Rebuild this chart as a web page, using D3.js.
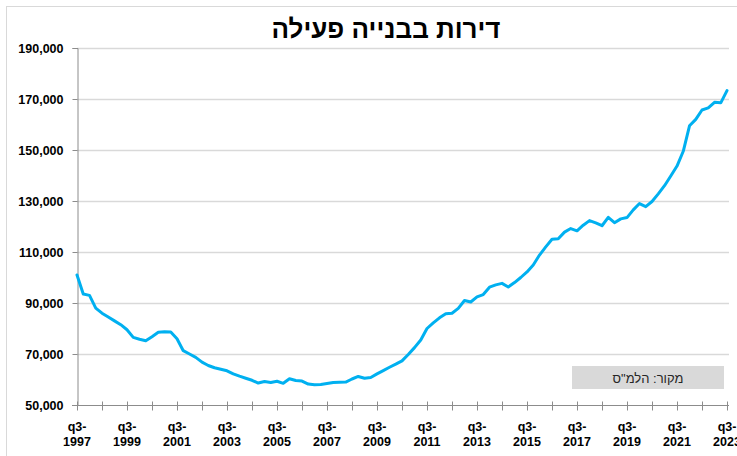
<!DOCTYPE html>
<html>
<head>
<meta charset="utf-8">
<script src="https://cdn.jsdelivr.net/npm/d3@7"></script>
<style>
  body { margin: 0; background: #fff; }
  svg { display: block; font-family: "Liberation Sans", Arial, sans-serif; }
</style>
</head>
<body>
<div id="chart"></div>
<script>
// active housing construction, quarterly q3-1997 .. q3-2023
const values = [
  101000, 93500, 93000, 88000, 86000, 84500, 83000, 81500, 79500, 76500,
  75800, 75200, 76800, 78500, 78700, 78600, 76000, 71300, 70000, 68700,
  66800, 65500, 64600, 64000, 63400, 62200, 61300, 60500, 59700, 58600,
  59200, 58800, 59300, 58500, 60300, 59600, 59400, 58200, 57900, 58000,
  58400, 58800, 58900, 59000, 60200, 61200, 60500, 60800, 62200, 63500,
  64800, 66000, 67300, 69800, 72500, 75500, 80000, 82200, 84200, 85800,
  86000, 87900, 91000, 90400, 92400, 93300, 96200, 97100, 97700, 96300,
  98000, 100000, 102200, 104900, 108800, 112000, 115000, 115200, 117800, 119200,
  118300, 120500, 122300, 121400, 120300, 123600, 121500, 123000, 123500, 126500,
  129000, 127800, 129800, 132800, 136000, 139800, 143700, 149500, 159500, 162000,
  165700, 166500, 168700, 168500, 173300
];

// quarter names for each point: q3-1997, q4-1997, q1-1998 ...
const categories = values.map((d, i) => {
  const q = (2 + i) % 4 + 1;
  const yr = 1997 + Math.floor((2 + i) / 4);
  return 'q' + q + '-' + yr;
});

const tickLabels = ['q3-1997', 'q3-1999', 'q3-2001', 'q3-2003', 'q3-2005', 'q3-2007', 'q3-2009',
  'q3-2011', 'q3-2013', 'q3-2015', 'q3-2017', 'q3-2019', 'q3-2021', 'q3-2023'];
const yTicks = [50000, 70000, 90000, 110000, 130000, 150000, 170000, 190000];

const title = 'דירות בבנייה פעילה';
const source = 'מקור: הלמ"ס';

const width = 737, height = 456;
const plotLeft = 77, plotRight = 727, plotTop = 48, plotBottom = 405;

const svg = d3.select('#chart').append('svg')
  .attr('width', width)
  .attr('height', height);

// chart frame
svg.append('rect')
  .attr('x', 6.5).attr('y', 6.5)
  .attr('width', 740).attr('height', 460)
  .attr('fill', 'none')
  .attr('stroke', '#d9d9d9');

const x = d3.scalePoint()
  .domain(categories)
  .range([plotLeft, plotRight]);

const y = d3.scaleLinear()
  .domain([50000, 190000])
  .range([plotBottom, plotTop]);

// gridlines
svg.append('g')
  .selectAll('line')
  .data(yTicks.slice(1))
  .enter()
  .append('line')
  .attr('x1', plotLeft).attr('x2', 729)
  .attr('y1', (d) => Math.round(y(d)) + 0.5)
  .attr('y2', (d) => Math.round(y(d)) + 0.5)
  .attr('stroke', '#d9d9d9')
  .attr('stroke-width', 1.5);

// y axis
const yAxis = svg.append('g')
  .attr('transform', `translate(${plotLeft + 0.5},0)`)
  .call(d3.axisLeft(y).tickValues(yTicks).tickSize(5).tickPadding(9).tickFormat(d3.format(',')));
yAxis.select('.domain').attr('stroke', '#8c8c8c');
yAxis.selectAll('.tick line').attr('stroke', '#8c8c8c');
yAxis.selectAll('text')
  .attr('font-size', '12.5px')
  .attr('font-weight', 'bold')
  .attr('fill', '#000');

// x axis: a tick every year, label every two years
const yearTicks = categories.filter((c) => c.startsWith('q3-'));
const xAxis = svg.append('g')
  .attr('transform', `translate(0,${plotBottom + 0.5})`)
  .call(d3.axisBottom(x).tickValues(yearTicks).tickSize(5).tickSizeOuter(0).tickFormat(''));
xAxis.select('.domain').attr('stroke', '#8c8c8c').attr('d', `M${plotLeft - 5},0H729`);
xAxis.selectAll('.tick line')
  .attr('stroke', '#8c8c8c')
  .attr('y1', -4).attr('y2', 5);

const labels = svg.append('g')
  .selectAll('text')
  .data(tickLabels)
  .enter()
  .append('text')
  .attr('x', (d) => x(d))
  .attr('y', 431)
  .attr('text-anchor', 'middle')
  .attr('font-size', '12.5px')
  .attr('font-weight', 'bold')
  .attr('fill', '#000');
labels.append('tspan').attr('x', (d) => x(d)).text((d) => d.split('-')[0] + '-');
labels.append('tspan').attr('x', (d) => x(d)).attr('dy', 15).text((d) => d.split('-')[1]);

// the series
const line = d3.line()
  .x((d, i) => x(categories[i]))
  .y((d) => y(d));

svg.append('path')
  .datum(values)
  .attr('d', line)
  .attr('fill', 'none')
  .attr('stroke', '#00b0f0')
  .attr('stroke-width', 3)
  .attr('stroke-linejoin', 'round')
  .attr('stroke-linecap', 'round');

// title
svg.append('text')
  .attr('x', 386)
  .attr('y', 38)
  .attr('text-anchor', 'middle')
  .attr('direction', 'rtl')
  .attr('font-size', '26px')
  .attr('font-weight', 'bold')
  .attr('fill', '#000')
  .text(title);

// source box
svg.append('rect')
  .attr('x', 572).attr('y', 366)
  .attr('width', 152).attr('height', 23)
  .attr('fill', '#d9d9d9');
svg.append('text')
  .attr('x', 648)
  .attr('y', 382.5)
  .attr('text-anchor', 'middle')
  .attr('font-size', '13px')
  .attr('fill', '#262626')
  .text(source);
</script>
</body>
</html>
